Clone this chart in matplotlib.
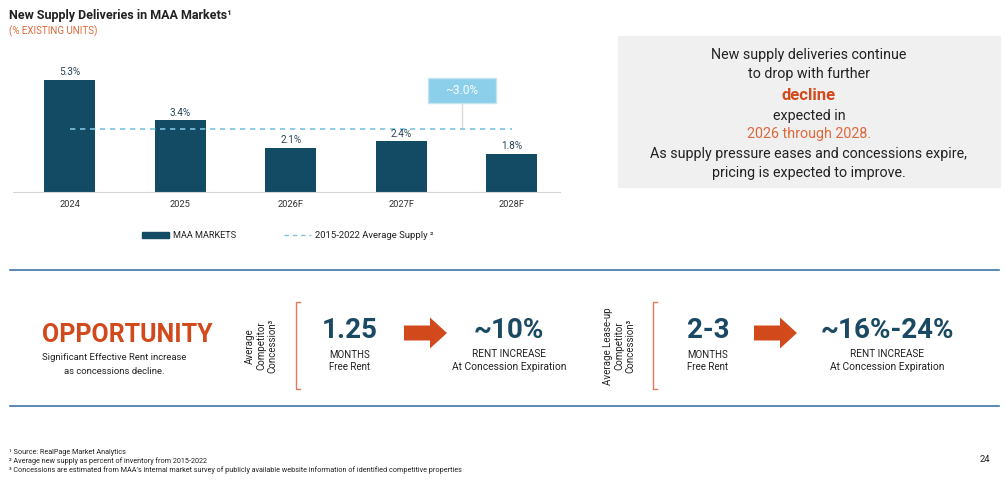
import matplotlib
matplotlib.use('Agg')
import matplotlib.pyplot as plt
from matplotlib.patches import Rectangle, FancyArrow

plt.rcParams['font.family'] = ['Roboto', 'DejaVu Sans']

years = ['2024', '2025', '2026F', '2027F', '2028F']
supply = [5.3, 3.4, 2.1, 2.4, 1.8]
avg_supply = 3.0
avg_label = '~3.0%'

box_lines = ['New supply deliveries continue', 'to drop with further', 'decline',
             'expected in', '2026 through 2028.',
             'As supply pressure eases and concessions expire,',
             'pricing is expected to improve.']

concessions = ['1.25', '2-3']
rent_increase = ['~10%', '~16%-24%']
concession_labels = ['Average\nCompetitor\nConcession\u00b3',
                     'Average Lease-up\nCompetitor\nConcession\u00b3']

footnotes = ['\u00b9 Source: RealPage Market Analytics',
             '\u00b2 Average new supply as percent of inventory from 2015-2022',
             '\u00b3 Concessions are estimated from MAA\u2019s internal market survey of publicly available website information of identified competitive properties']

BAR = '#134a64'
NAVY = '#1a4a63'
ORANGE = '#d2491c'
LIGHT_ORANGE = '#e0683a'
DASH = '#7cc3e0'
TEXT = '#222222'

W, H = 1007, 487
fig = plt.figure(figsize=(W / 100, H / 100), dpi=100)

# overlay axes in pixel coordinates for the slide furniture
ov = fig.add_axes([0, 0, 1, 1])
ov.set_xlim(0, W)
ov.set_ylim(H, 0)
ov.axis('off')

# bar chart
ax = fig.add_axes([13 / W, (H - 192) / H, 547 / W, 132 / H])
x = list(range(len(years)))
ax.bar(x, supply, width=0.46, color=BAR, zorder=2)
ax.plot([0, len(years) - 1], [avg_supply, avg_supply], color=DASH, lw=1.2,
        dashes=(3.2, 2.8), zorder=3)
for xi, v in zip(x, supply):
    ax.annotate(f'{v}%', (xi, v), xytext=(0, 2), textcoords='offset points',
                ha='center', va='bottom', fontsize=7.2, color='#2a4458')
ax.set_xlim(-0.511, 4.435)
ax.set_ylim(0, 6.26)
ax.set_xticks(x)
ax.set_xticklabels(years, fontsize=6.7, color='#333333')
ax.tick_params(axis='x', length=0, pad=6)
ax.set_yticks([])
for s in ['top', 'right', 'left']:
    ax.spines[s].set_visible(False)
ax.spines['bottom'].set_color('#d4d4d4')

# callout for the average
cx, cy, bw, bh = 3.55, 4.83, 0.62, 1.18
ax.plot([cx, cx], [avg_supply, cy - bh / 2], color='#d9d9d9', lw=1, zorder=1)
ax.add_patch(Rectangle((cx - bw / 2, cy - bh / 2), bw, bh, fc='#8ccfea',
                       ec='#c3e5f3', lw=1, zorder=4, clip_on=False))
ax.text(cx, cy, avg_label, ha='center', va='center', color='white',
        fontsize=8.5, zorder=5)

# titles
ov.text(9, 15, 'New Supply Deliveries in MAA Markets\u00b9', fontsize=9,
        fontweight='bold', color=TEXT, va='center')
ov.text(9, 31, '(% EXISTING UNITS)', fontsize=7, color=LIGHT_ORANGE, va='center')

# legend
ov.add_patch(Rectangle((142, 232), 27, 6, color=BAR))
ov.text(173, 235, 'MAA MARKETS', fontsize=6.6, color=TEXT, va='center')
ov.plot([284, 311], [235, 235], color=DASH, lw=1, dashes=(3.2, 2.8))
ov.text(315, 235, '2015-2022 Average Supply \u00b2', fontsize=6.8, color=TEXT,
        va='center')

# right grey box
ov.add_patch(Rectangle((618, 36), 382, 151, color='#f0f0f0'))
line_y = [55, 74, 95, 116, 134, 154, 173]
for i, (t, yy) in enumerate(zip(box_lines, line_y)):
    if i == 2:
        ov.text(809, yy, t, ha='center', va='center', fontsize=12,
                fontweight='bold', color=ORANGE)
    elif i == 4:
        ov.text(809, yy, t, ha='center', va='center', fontsize=10.3,
                color=LIGHT_ORANGE)
    else:
        ov.text(809, yy, t, ha='center', va='center', fontsize=10.3, color=TEXT)

# separators
for yy in [270, 406]:
    ov.plot([10, 999], [yy, yy], color='#3f76a3', lw=1.2)

# opportunity block
ov.text(127, 335, 'OPPORTUNITY', ha='center', va='center', fontsize=18,
        fontweight='bold', color=ORANGE)
ov.text(114, 357, 'Significant Effective Rent increase', ha='center',
        va='center', fontsize=6.8, color=TEXT)
ov.text(114, 372, 'as concessions decline.', ha='center', va='center',
        fontsize=6.8, color=TEXT)

groups = [dict(lab_x=261, br_x=296, num_x=350, arr_x=404, pct_x=509),
          dict(lab_x=619, br_x=653, num_x=708, arr_x=754, pct_x=887)]
for g, lab, num, pct in zip(groups, concession_labels, concessions, rent_increase):
    ov.text(g['lab_x'], 346, lab, rotation=90, ha='center', va='center',
            multialignment='center', fontsize=7, color=TEXT, linespacing=1.15)
    bx = g['br_x']
    ov.plot([bx + 4, bx, bx, bx + 4], [302, 302, 389, 389], color='#e27a5c', lw=1)
    ov.text(g['num_x'], 331, num, ha='center', va='center', fontsize=20,
            fontweight='bold', color=NAVY)
    ov.text(g['num_x'], 355, 'MONTHS', ha='center', va='center', fontsize=7,
            color=TEXT)
    ov.text(g['num_x'], 367, 'Free Rent', ha='center', va='center', fontsize=7,
            color=TEXT)
    ov.add_patch(FancyArrow(g['arr_x'], 333, 43, 0, width=15, head_width=31,
                            head_length=17, length_includes_head=True,
                            color=ORANGE, lw=0))
    ov.text(g['pct_x'], 331, pct, ha='center', va='center', fontsize=20,
            fontweight='bold', color=NAVY)
    ov.text(g['pct_x'], 354, 'RENT INCREASE', ha='center', va='center',
            fontsize=7.2, color=TEXT)
    ov.text(g['pct_x'], 367, 'At Concession Expiration', ha='center',
            va='center', fontsize=7.4, color=TEXT)

# footnotes and page number
for t, yy in zip(footnotes, [452, 461, 470]):
    ov.text(9, yy, t, fontsize=5.2, color=TEXT, va='center')
ov.text(985, 460, '24', ha='center', va='center', fontsize=6.8, color=TEXT)

fig.savefig('out.png', dpi=100)
